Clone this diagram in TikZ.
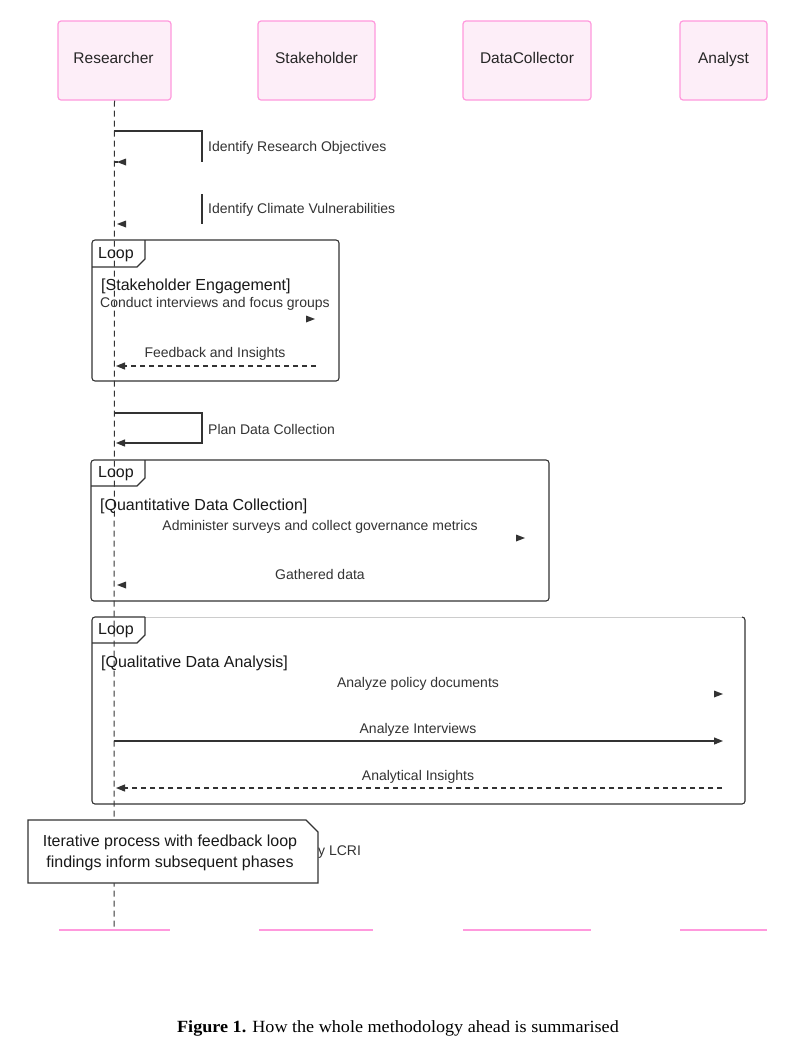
\documentclass[tikz,border=0pt]{standalone}
\usepackage{fontspec}
\setmainfont{Liberation Serif}
\setsansfont{Liberation Sans}
\usetikzlibrary{arrows.meta}
\definecolor{ink}{HTML}{333333}
\definecolor{actorpink}{HTML}{FF99DD}
\definecolor{actorfill}{HTML}{FDEEF8}
\tikzset{
 actorbox/.style={draw=actorpink, fill=actorfill, rounded corners=3pt, line width=1.2pt, inner sep=0pt},
 actorlab/.style={font=\sffamily\fontsize{15.5}{18}\selectfont, text=black!85, inner sep=0pt, anchor=base},
 msg/.style={font=\sffamily\fontsize{14}{16}\selectfont, text=ink, inner sep=0pt},
 looplab/.style={font=\sffamily\fontsize{16}{19}\selectfont, text=black!90, inner sep=0pt},
 frame/.style={draw=ink, line width=1.1pt, rounded corners=3pt},
 solidmsg/.style={draw=ink, line width=1.2pt, -{Triangle[length=9pt,width=7pt]}},
 dashmsg/.style={solidmsg, dash pattern=on 5pt off 4pt},
 selfline/.style={draw=ink, line width=1.2pt},
 life/.style={draw=ink, line width=1pt, dash pattern=on 6pt off 4pt},
 endline/.style={draw=actorpink, line width=1.2pt},
 notebox/.style={draw=ink, fill=white, line width=1.1pt},
 notetext/.style={font=\sffamily\fontsize{16}{21}\selectfont, text=black!90, align=center, inner sep=0pt},
 headR/.pic={\fill[ink] (-9,-3.5) -- (0,0) -- (-9,3.5) -- cycle;},
 headL/.pic={\fill[ink] (9,-3.5) -- (0,0) -- (9,3.5) -- cycle;},
}
\begin{document}
\begin{tikzpicture}[x=1pt,y=-1pt]
\useasboundingbox (0,0) rectangle (801,1053);
\fill[white] (0,0) rectangle (801,1053);

% actors
\node[actorbox, minimum width=113pt, minimum height=79pt] (R) at (114.5,60.5) {};
\node[actorbox, minimum width=117pt, minimum height=79pt] (S) at (316.5,60.5) {};
\node[actorbox, minimum width=128pt, minimum height=79pt] (D) at (527,60.5) {};
\node[actorbox, minimum width=87pt, minimum height=79pt] (A) at (723.5,60.5) {};
\node[actorlab] (Rl) at (113.5,63.5) {Researcher};
\node[actorlab] (Sl) at (316.5,63.5) {Stakeholder};
\node[actorlab] (Dl) at (527,63.5) {DataCollector};
\node[actorlab] (Al) at (723.5,63.5) {Analyst};

% bottom ends
\coordinate (Rend) at (114,930);
\draw[endline] (59,930) -- (170,930);
\draw[endline] (259,930) -- (373,930);
\draw[endline] (463,930) -- (591,930);
\draw[endline] (680,930) -- (767,930);

% lifeline
\draw[life] (R.south) -- (Rend);

% self message 1
\coordinate (m1a) at (114,131);
\coordinate (m1b) at (202,131);
\coordinate (m1c) at (202,162);
\draw[selfline] (m1a) -- (m1b) -- (m1c);
\draw[selfline] (114,162) -- (118,162);
\pic at (117,162) {headL};
\node[msg, anchor=west] (t1) at (208,148) {Identify Research Objectives};

% self message 2
\draw[selfline] (202,194) -- (202,224);
\pic at (117,224) {headL};
\node[msg, anchor=west] (t2) at (208,210) {Identify Climate Vulnerabilities};

% loop 1
\draw[frame] (92,240) rectangle (339,381);
\draw[draw=ink, line width=1.1pt] (92,267) -- (137,267) -- (145,259) -- (145,240);
\node[looplab] (l1) at (116,255) {Loop};
\node[looplab, anchor=west] (g1) at (101,286) {[Stakeholder Engagement]};
\node[msg] (t3) at (215,304) {Conduct interviews and focus groups};
\pic at (315,319) {headR};
\node[msg] (t4) at (215,354) {Feedback and Insights};
\coordinate (f1a) at (316,366);
\coordinate (f1b) at (116,366);
\draw[dashmsg] (f1a) -- (f1b);

% self message 3
\coordinate (p1) at (114,413);
\coordinate (p2) at (202,413);
\coordinate (p3) at (202,443);
\coordinate (p4) at (116,443);
\draw[solidmsg] (p1) -- (p2) -- (p3) -- (p4);
\node[msg, anchor=west] (t5) at (208,429) {Plan Data Collection};

% loop 2
\draw[frame] (91,460) rectangle (549,601);
\draw[draw=ink, line width=1.1pt] (91,486) -- (137,486) -- (145,478) -- (145,460);
\node[looplab] (l2) at (116,474) {Loop};
\node[looplab, anchor=west] (g2) at (100,506) {[Quantitative Data Collection]};
\node[msg] (t6) at (320,527) {Administer surveys and collect governance metrics};
\pic at (525,538) {headR};
\node[msg] (t7) at (320,574) {Gathered data};
\pic at (117,585) {headL};

% loop 3
\draw[draw=ink!25, line width=1pt] (145,617) -- (742,617);
\draw[draw=ink, line width=1.1pt, rounded corners=3pt] (742,617) -- (745,617) -- (745,804) -- (92,804) -- (92,617) -- (145,617);
\draw[draw=ink, line width=1.1pt] (92,643) -- (137,643) -- (145,635) -- (145,617);
\node[looplab] (l3) at (116,631) {Loop};
\node[looplab, anchor=west] (g3) at (101,663) {[Qualitative Data Analysis]};
\node[msg] (t8) at (418,684) {Analyze policy documents};
\pic at (723,694) {headR};
\node[msg] (t9) at (418,730) {Analyze Interviews};
\coordinate (ai1) at (114,741);
\coordinate (ai2) at (723,741);
\draw[solidmsg] (ai1) -- (ai2);
\node[msg] (t10) at (418,777) {Analytical Insights};
\coordinate (ins1) at (722,788);
\coordinate (ins2) at (116,788);
\draw[dashmsg] (ins1) -- (ins2);

% hidden message text and note
\node[msg, anchor=west] (t11) at (318,852) {y LCRI};
\draw[notebox] (28,820) -- (306,820) -- (318,832) -- (318,883) -- (28,883) -- cycle;
\node[notetext] (note) at (170,852.5) {Iterative process with feedback loop\\findings inform subsequent phases};

% caption
\node[font=\fontsize{17.1}{20}\selectfont, inner sep=0pt] (cap) at (398,1028) {\scalebox{1.06}[1]{\textbf{Figure 1.} How the whole methodology ahead is summarised}};
\end{tikzpicture}
\end{document}
